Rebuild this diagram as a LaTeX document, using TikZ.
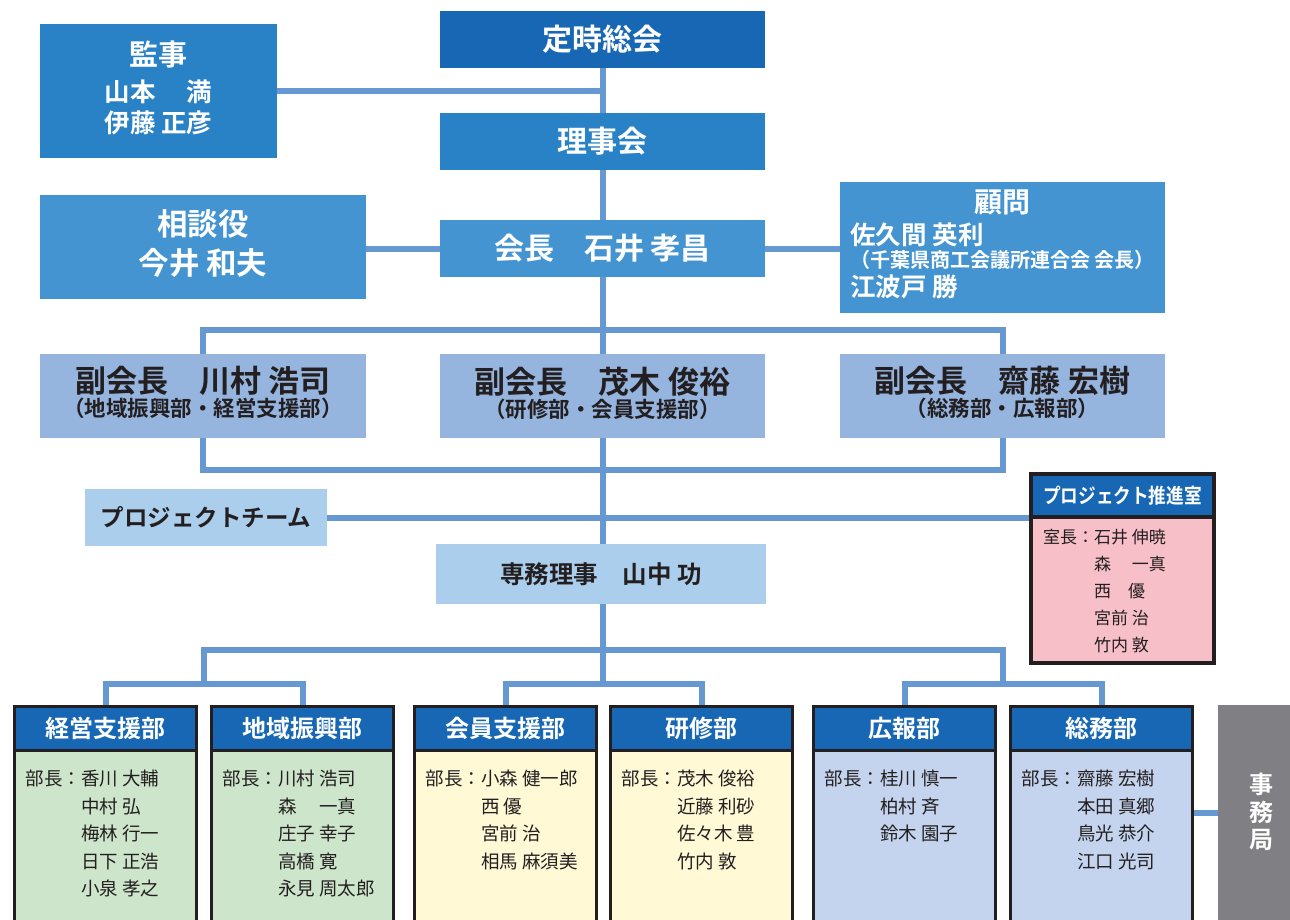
\documentclass[tikz,border=0pt]{standalone}
\usepackage{fontspec}
\setmainfont{Noto Sans CJK JP}[BoldFont={Noto Sans CJK JP Bold}]
\usetikzlibrary{backgrounds,calc}
\definecolor{cTop}{HTML}{1767B4}
\definecolor{cMid}{HTML}{2982C6}
\definecolor{cLt}{HTML}{4394D0}
\definecolor{cVP}{HTML}{95B4DE}
\definecolor{cPale}{HTML}{ABCEEC}
\definecolor{cLine}{HTML}{6699D1}
\definecolor{cInk}{HTML}{231F20}
\definecolor{cGreen}{HTML}{CDE5CB}
\definecolor{cYellow}{HTML}{FFF9D6}
\definecolor{cLav}{HTML}{C5D4EE}
\definecolor{cPink}{HTML}{F7BFC7}
\definecolor{cGray}{HTML}{808084}
\newcommand\fs[2]{\fontsize{#1pt}{#2pt}\selectfont}
\begin{document}
\begin{tikzpicture}[x=1pt,y=-1pt,
  box/.style={rectangle,inner sep=0pt,outer sep=0pt,anchor=north west,align=center},
  wbox/.style={box,text=white},
  dbox/.style={box,text=cInk},
  conn/.style={draw=cLine,line width=6pt},
  dhead/.style={box,fill=cTop,draw=cInk,line width=3pt,text=white,minimum width=182pt,minimum height=44pt,font={\bfseries\fs{24}{29}}},
  dbody/.style={box,draw=cInk,line width=3pt,minimum width=182pt,minimum height=240pt},
  namelist/.style={inner sep=0pt,outer sep=0pt,anchor=north west,text=cInk,font={\fs{18.5}{27.5}}},
]
\useasboundingbox (0,0) rectangle (1290,920);

% top column
\node[wbox,fill=cTop,minimum width=325pt,minimum height=57pt,font={\bfseries\fs{30}{34}}] (teiji) at (440,11) {定時総会};
\node[wbox,fill=cMid,minimum width=237pt,minimum height=134pt,font={\bfseries\fs{25.5}{31}}] (kanji) at (40,24)
  {\begin{tabular}{@{}c@{}}{\fs{29}{31}監事}\\[5pt] 山本 　満\\ 伊藤 正彦\end{tabular}};
\node[wbox,fill=cMid,minimum width=325pt,minimum height=57pt,font={\bfseries\fs{30}{34}}] (riji) at (440,113) {理事会};
\node[wbox,fill=cLt,minimum width=326pt,minimum height=104pt,font={\bfseries\fs{30.5}{36}}] (soudan) at (40,195)
  {\begin{tabular}{@{}c@{}}相談役\\[2pt] 今井 和夫\end{tabular}};
\node[wbox,fill=cLt,minimum width=325pt,minimum height=57pt,font={\bfseries\fs{30}{34}}] (kaicho) at (440,220) {会長　石井 孝昌};
\node[wbox,fill=cLt,minimum width=325pt,minimum height=131pt,font={\bfseries\fs{25.5}{29}}] (komon) at (840,182)
  {\begin{tabular}{@{}l@{}}\multicolumn{1}{@{}c@{}}{\fs{28}{29}顧問}\\[2pt] 佐久間 英利\\[-6pt] {\fs{20}{22}（千葉県商工会議所連合会 会長）}\\[-1pt] 江波戸 勝\end{tabular}};

% vice presidents
\node[dbox,fill=cVP,minimum width=326pt,minimum height=84pt,font={\bfseries\fs{21.5}{28}}] (vp1) at (40,354)
  {\begin{tabular}{@{}c@{}}{\fs{31}{28}副会長　川村 浩司}\\[-4pt] （地域振興部・経営支援部）\end{tabular}};
\node[dbox,fill=cVP,minimum width=325pt,minimum height=84pt,font={\bfseries\fs{21.5}{28}}] (vp2) at (440,354)
  {\begin{tabular}{@{}c@{}}{\fs{31}{28}副会長　茂木 俊裕}\\[-4pt] （研修部・会員支援部）\end{tabular}};
\node[dbox,fill=cVP,minimum width=325pt,minimum height=84pt,font={\bfseries\fs{21.5}{28}}] (vp3) at (840,354)
  {\begin{tabular}{@{}c@{}}{\fs{31}{28}副会長　齋藤 宏樹}\\[-4pt] （総務部・広報部）\end{tabular}};

% project team, senmu
\node[dbox,fill=cPale,minimum width=242pt,minimum height=57pt,font={\bfseries\fs{23.5}{28}}] (pt) at (85,489) {プロジェクトチーム};
\node[dbox,fill=cPale,minimum width=330pt,minimum height=60pt,font={\bfseries\fs{24.5}{28}}] (senmu) at (436,544) {専務理事　山中 功};

% project promotion office
\node[box,fill=cPink,draw=cInk,line width=3.5pt,minimum width=183pt,minimum height=189pt] (psr) at (1031,474) {};
\node[box,fill=cTop,draw=cInk,line width=3.5pt,minimum width=183pt,minimum height=43pt,text=white,font={\bfseries\fs{20.5}{24}}] (psrh) at (1031,474) {\scalebox{0.86}[1]{プロジェクト推進室}};
\node[namelist,font={\fs{17}{27}}] (psrn) at (1043,525)
  {\begin{tabular}{@{}l@{}l@{}}室長：&石井 伸暁\\ &森 　一真\\ &西　優\\ &宮前 治\\ &竹内 敦\end{tabular}};

% departments
\node[dbody,fill=cGreen] (d1b) at (14.5,706.5) {};
\node[dhead] (d1) at (14.5,706.5) {経営支援部};
\node[namelist] (d1n) at ($(d1b.north west)+(11,60)$)
  {\begin{tabular}{@{}l@{}l@{}}部長：&香川 大輔\\ &中村 弘\\ &梅林 行一\\ &日下 正浩\\ &小泉 孝之\end{tabular}};
\node[dbody,fill=cGreen] (d2b) at (211.5,706.5) {};
\node[dhead] (d2) at (211.5,706.5) {地域振興部};
\node[namelist] (d2n) at ($(d2b.north west)+(11,60)$)
  {\begin{tabular}{@{}l@{}l@{}}部長：&川村 浩司\\ &森 　一真\\ &庄子 幸子\\ &高橋 寛\\ &永見 周太郎\end{tabular}};
\node[dbody,fill=cYellow] (d3b) at (414.5,706.5) {};
\node[dhead] (d3) at (414.5,706.5) {会員支援部};
\node[namelist] (d3n) at ($(d3b.north west)+(11,60)$)
  {\begin{tabular}{@{}l@{}l@{}}部長：&小森 健一郎\\ &西 優\\ &宮前 治\\ &相馬 麻須美\end{tabular}};
\node[dbody,fill=cYellow] (d4b) at (610.5,706.5) {};
\node[dhead] (d4) at (610.5,706.5) {研修部};
\node[namelist] (d4n) at ($(d4b.north west)+(11,60)$)
  {\begin{tabular}{@{}l@{}l@{}}部長：&茂木 俊裕\\ &近藤 利砂\\ &佐々木 豊\\ &竹内 敦\end{tabular}};
\node[dbody,fill=cLav] (d5b) at (813.5,706.5) {};
\node[dhead] (d5) at (813.5,706.5) {広報部};
\node[namelist] (d5n) at ($(d5b.north west)+(11,60)$)
  {\begin{tabular}{@{}l@{}l@{}}部長：&桂川 慎一\\ &柏村 斉\\ &鈴木 園子\end{tabular}};
\node[dbody,fill=cLav] (d6b) at (1010.5,706.5) {};
\node[dhead] (d6) at (1010.5,706.5) {総務部};
\node[namelist] (d6n) at ($(d6b.north west)+(11,60)$)
  {\begin{tabular}{@{}l@{}l@{}}部長：&齋藤 宏樹\\ &本田 真郷\\ &鳥光 恭介\\ &江口 光司\end{tabular}};

% secretariat
\node[box,fill=cGray,text=white,minimum width=86pt,minimum height=220pt,font={\bfseries\fs{24}{26}}] (jimu) at (1218,705)
  {\raisebox{4pt}{\begin{tabular}{@{}c@{}}事\\務\\局\end{tabular}}};

% connectors
\begin{scope}[on background layer]
\coordinate (tbot) at ($(teiji.south |- d3.north)+(0,-23)$);
\draw[conn] (teiji.south) -- (tbot);
\draw[conn] (kanji.east) -- (kanji.east -| teiji.south);
\draw[conn] (kaicho.west -| soudan.east) -- (kaicho.west);
\draw[conn] (kaicho.east) -- (kaicho.east -| komon.west);
\draw[conn] ($(vp1.north)+(0,-24)$) rectangle ($(vp3.south)+(0,32)$);
\draw[conn] (pt.east) -- (pt.east -| psr.west);
\draw[conn] ($(d1.north)!.5!(d2.north)+(0,-23)$) |- ($(senmu.south)+(0,46)$) -| ($(d5.north)!.5!(d6.north)+(0,-23)$);
\draw[conn] (d1.north) -- ++(0,-23) -| (d2.north);
\draw[conn] (d3.north) -- ++(0,-23) -| (d4.north);
\draw[conn] (d5.north) -- ++(0,-23) -| (d6.north);
\coordinate (jc) at ($(d6b.north east)+(0,106)$);
\draw[conn] (jc) -- (jc -| jimu.west);
\end{scope}
\end{tikzpicture}
\end{document}
